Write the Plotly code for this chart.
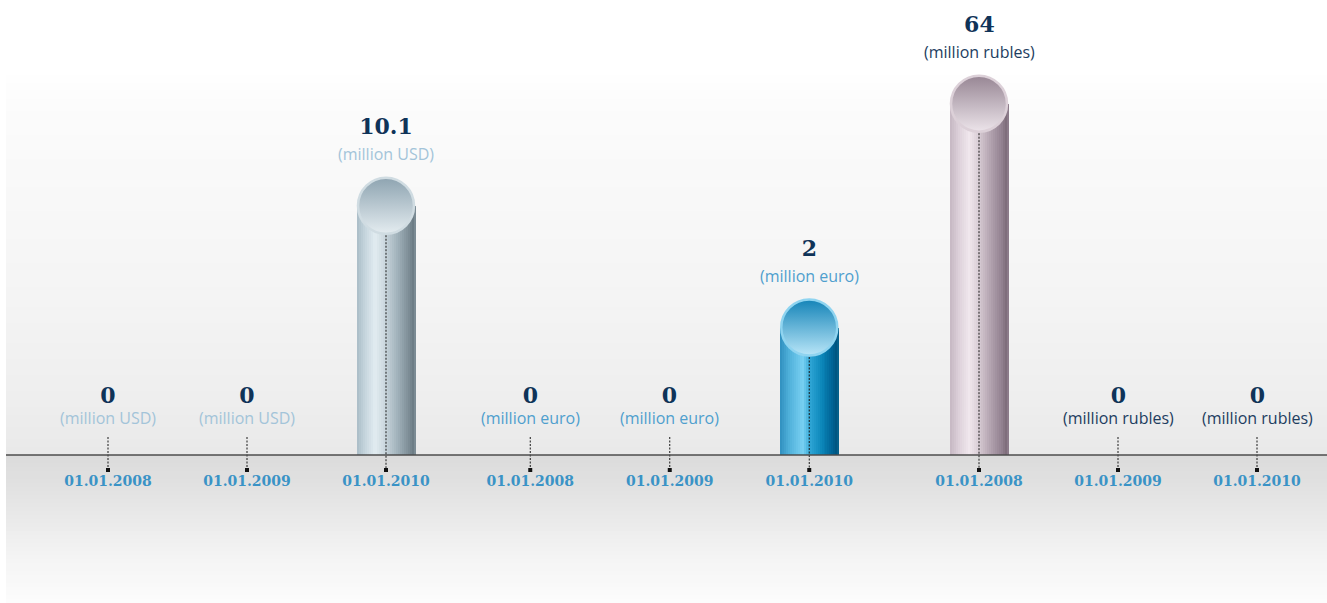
import numpy as np
import plotly.graph_objects as go

# ---- data ---------------------------------------------------------------
dates = ["01.01.2008", "01.01.2009", "01.01.2010"]
usd_values = [0, 0, 10.1]
euro_values = [0, 0, 2]
rub_values = [64, 0, 0]
unit_labels = ["(million USD)", "(million euro)", "(million rubles)"]

# ---- layout constants ---------------------------------------------------
W, H = 1327, 603
BASE_PX = 455          # baseline, pixels from the top
BAR_PX = 59            # cylinder diameter in pixels
STRIPS = 30            # slices used to shade each cylinder

groups = [
    dict(values=usd_values, unit=unit_labels[0], dom=(38.5, 455.5), ppu=27.6,
         unit_color="#a3c4d9",
         body=[(0.0, "#aabcc6"), (0.12, "#c3d3db"), (0.3, "#e2ecf1"), (0.5, "#c6d3da"),
               (0.7, "#9fb0b9"), (0.88, "#7d8d96"), (0.96, "#6b7b84"), (1.0, "#8797a0")],
         cap_top="#8ea4b1", cap_bottom="#e4ecf0", ring="#d0dce2"),
    dict(values=euro_values, unit=unit_labels[1], dom=(460.5, 879.0), ppu=78.5,
         unit_color="#4f9fce",
         body=[(0.0, "#2f8fbf"), (0.15, "#4fb0da"), (0.38, "#78d0f2"), (0.52, "#2aa2d2"),
               (0.7, "#0b86b9"), (0.88, "#006597"), (0.96, "#00547f"), (1.0, "#0b6892")],
         cap_top="#1584b8", cap_bottom="#b9e6f8", ring="#8fd4f0"),
    dict(values=rub_values, unit=unit_labels[2], dom=(909.5, 1326.5), ppu=5.95,
         unit_color="#1d3d60",
         body=[(0.0, "#c5b7c2"), (0.15, "#ddd1da"), (0.32, "#f0e7ed"), (0.52, "#d3c6cf"),
               (0.72, "#ad9daa"), (0.88, "#928190"), (0.96, "#7c6b79"), (1.0, "#978796")],
         cap_top="#978694", cap_bottom="#ece4ea", ring="#dcd0d8"),
]

NAVY = "#0f3358"
DATE_BLUE = "#3a93c6"
SERIF = "DejaVu Serif"


def hex_to_rgb(h):
    h = h.lstrip("#")
    return np.array([int(h[i:i + 2], 16) for i in (0, 2, 4)], dtype=float)


def shade(stops, t):
    pos = [p for p, _ in stops]
    cols = np.array([hex_to_rgb(c) for _, c in stops])
    rgb = [np.interp(t, pos, cols[:, k]) for k in range(3)]
    return "rgb(%d,%d,%d)" % tuple(int(round(v)) for v in rgb)


fig = go.Figure()
annotations = []
layout_axes = {}

for gi, g in enumerate(groups):
    suffix = "" if gi == 0 else str(gi + 1)
    xa, ya = "x" + suffix, "y" + suffix
    ppu = g["ppu"]
    vals = g["values"]
    spacing_px = (g["dom"][1] - g["dom"][0]) / len(dates)
    bar_w = BAR_PX / spacing_px
    r_units = (BAR_PX / 2) / ppu

    # cylinder body: overlapping slices, each running to the right edge
    body = [max(v - r_units, 0) if v > 0 else 0 for v in vals]
    for j in range(STRIPS):
        left = -bar_w / 2 + j * bar_w / STRIPS
        fig.add_trace(go.Bar(
            x=dates, y=body,
            offset=[left] * len(dates), width=[bar_w / 2 - left] * len(dates),
            marker=dict(color=shade(g["body"], (j + 0.5) / STRIPS), line=dict(width=0)),
            xaxis=xa, yaxis=ya, hoverinfo="skip", showlegend=False,
        ))

    # round cap on top of every non-zero cylinder
    cap_x = [d for d, v in zip(dates, vals) if v > 0]
    cap_y = [v - r_units for v in vals if v > 0]
    fig.add_trace(go.Scatter(
        x=cap_x, y=cap_y, mode="markers",
        marker=dict(symbol="circle", size=BAR_PX - 3, color=g["cap_top"],
                    gradient=dict(type="vertical", color=g["cap_bottom"]),
                    line=dict(color=g["ring"], width=2.5)),
        xaxis=xa, yaxis=ya, hoverinfo="skip", showlegend=False, cliponaxis=False,
    ))

    # dotted leader from each cap (or a short stub for zeros) to below the baseline
    for d, v in zip(dates, vals):
        y_top = v - 2 * r_units if v > 0 else 18 / ppu
        y_end = -15 / ppu
        fig.add_trace(go.Scatter(
            x=[d, d], y=[y_top, y_end], mode="lines",
            line=dict(color="#1a1a1a", width=1, dash="2px,1.5px"),
            xaxis=xa, yaxis=ya, hoverinfo="skip", showlegend=False, cliponaxis=False,
        ))
        fig.add_trace(go.Scatter(
            x=[d], y=[y_end], mode="markers",
            marker=dict(symbol="square", size=4, color="#111111"),
            xaxis=xa, yaxis=ya, hoverinfo="skip", showlegend=False, cliponaxis=False,
        ))

        # value (bold serif) over unit (sans) in one two-line label
        base_size, shift = (20, 10) if v > 0 else (16, 25)
        text = (f"<span style='font-family:{SERIF};font-size:22px;font-weight:bold;"
                f"color:{NAVY}'>{v:g}</span><br>"
                f"<span style='font-size:16px'>{g['unit']}</span>")
        annotations.append(dict(
            x=d, y=v, xref=xa, yref=ya, text=text, showarrow=False,
            yanchor="bottom", yshift=shift, borderpad=0,
            font=dict(family="Open Sans", size=base_size, color=g["unit_color"]),
        ))

    y_lo = -(H - BASE_PX) / ppu
    y_hi = BASE_PX / ppu
    layout_axes["xaxis" + suffix] = dict(
        domain=[g["dom"][0] / W, g["dom"][1] / W], anchor="free",
        position=1 - BASE_PX / H, type="category", range=[-0.5, len(dates) - 0.5],
        showgrid=False, zeroline=False, showline=False,
        ticks="outside", ticklen=13, tickcolor="rgba(0,0,0,0)",
        tickfont=dict(family=SERIF, size=14, color=DATE_BLUE, weight="bold"),
        fixedrange=True,
    )
    layout_axes["yaxis" + suffix] = dict(
        domain=[0, 1], anchor=xa, range=[y_lo, y_hi],
        showgrid=False, zeroline=False, showline=False, showticklabels=False,
        fixedrange=True,
    )

# soft grey backdrop: brighter at the top, darker band under the baseline
profile_px = [75, 120, 200, 300, 400, 453, 456, 480, 520, 560, 603]
profile_lv = [254, 251, 248, 244, 238, 233, 219, 224, 234, 245, 252]
shapes = []
step = 4
for top in range(75, H, step):
    lv = int(round(np.interp(top + step / 2, profile_px, profile_lv)))
    shapes.append(dict(
        type="rect", xref="paper", yref="paper", layer="below",
        x0=6 / W, x1=1, y0=1 - min(top + step, H) / H, y1=1 - top / H,
        fillcolor=f"rgb({lv},{lv},{lv})", line=dict(width=0),
    ))

# baseline
shapes.append(dict(
    type="line", xref="paper", yref="y", x0=6 / W, x1=1, y0=0, y1=0,
    line=dict(color="#4d4d4d", width=1.5), layer="above",
))

fig.update_layout(
    width=W, height=H, margin=dict(l=0, r=0, t=0, b=0, pad=0),
    paper_bgcolor="white", plot_bgcolor="rgba(0,0,0,0)",
    barmode="overlay", bargap=0, showlegend=False,
    shapes=shapes, annotations=annotations, **layout_axes,
)

fig.write_html("out.html")
